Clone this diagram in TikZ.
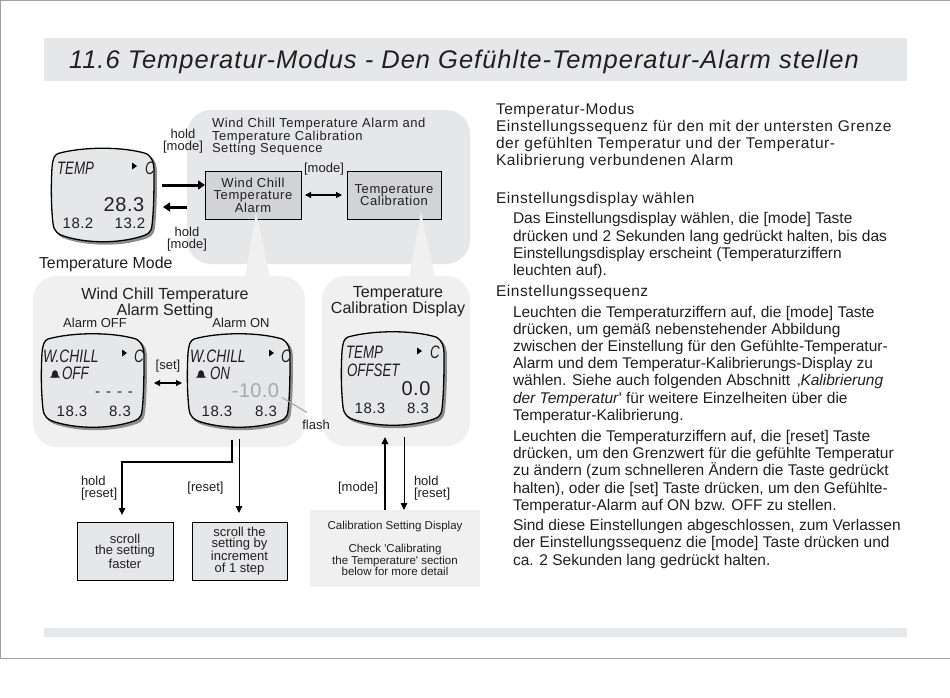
\documentclass[tikz,border=0pt]{standalone}
\usepackage{fontspec}
\setmainfont{Liberation Sans}
\newfontfamily\lspA[LetterSpace=3.9]{Liberation Sans}
\newfontfamily\lspB[LetterSpace=3.6]{Liberation Sans}
\newfontfamily\lspC[LetterSpace=4.4]{Liberation Sans}
\newfontfamily\plainf{Liberation Sans}
\usetikzlibrary{arrows.meta,calc}
\definecolor{txt}{HTML}{231F20}
\definecolor{barfill}{HTML}{E6E7E8}
\definecolor{seqfill}{HTML}{E6E7E8}
\definecolor{panelfill}{HTML}{F0F0F1}
\definecolor{boxfill}{HTML}{D1D3D4}
\definecolor{lcdfill}{HTML}{E6E7E8}
\definecolor{flashc}{HTML}{A7A9AC}
\definecolor{framec}{HTML}{A0A0A0}
\tikzset{
  lbl/.style={inner sep=0pt,outer sep=0pt,text=txt,anchor=base},
  lw/.style={lbl,anchor=base west},
  bodyt/.style={lw,font=\fontsize{15.5}{17}\selectfont},
  bodyh/.style={lw,font=\lspB\fontsize{15.5}{17}\selectfont},
  small/.style={font=\fontsize{13}{12}\selectfont},
  lcdt/.style={lw,font=\itshape\fontsize{18}{18}\selectfont,xscale=.74},
  lcdn/.style={lbl,font=\fontsize{15}{15}\selectfont\addfontfeature{LetterSpace=3}},
  lcdb/.style={lbl,font=\fontsize{20}{20}\selectfont\addfontfeature{LetterSpace=3}},
  panelbox/.style={inner sep=0pt,outer sep=0pt,rounded corners=24pt,fill=panelfill},
  seqbox/.style={draw=black,line width=1pt,fill=boxfill,inner sep=0pt,outer sep=0pt},
  scrollbox/.style={draw=black,line width=1pt,fill=lcdfill,inner sep=0pt,outer sep=0pt},
  fatarrow/.style={line width=3pt,-{Triangle[length=7pt,width=9pt]},black},
  thinarrow/.style={line width=1.1pt,-{Triangle[length=7pt,width=6.5pt]},black},
  dblarrow/.style={line width=1.2pt,{Triangle[length=6pt,width=6pt]}-{Triangle[length=6pt,width=6pt]},black},
}
\newcount\tn
\newcommand{\bodyline}[4][bodyt]{\global\advance\tn by 1 \node[#1] (line\the\tn) at (#2,#3) {#4};}
\newcommand{\lcdshape}[3]{%
  \node[minimum width=104pt,minimum height=96pt,inner sep=0pt,outer sep=0pt] (#1) at (#2,#3) {};
  \begin{scope}[shift={(#2,#3)}]
    \foreach \sx/\col/\lwd in {2.2/black!45/1.5pt,0/lcdfill/1.3pt}{
    \draw[draw=\ifdim\sx pt>0pt black!45\else black\fi,fill=\col,line width=\lwd,shift={(\sx,\sx)}]
      (-45,-42) .. controls (-20,-49) and (20,-49) .. (43,-42)
      .. controls (50,-38) and (51,-32) .. (51,-24)
      .. controls (51,-8) and (51,12) .. (49,30)
      .. controls (48,38) and (44,39) .. (38,41)
      .. controls (15,48) and (-15,48) .. (-38,41)
      .. controls (-45,39) and (-49,36) .. (-50,28)
      .. controls (-52,10) and (-52,-10) .. (-51,-28)
      .. controls (-50,-37) and (-49,-40) .. (-45,-42) -- cycle;}
  \end{scope}}
\newcommand{\pointer}[2]{\fill[black] (#1,#2) ++(-2,-3.5) -- ++(5,3.5) -- ++(-5,3.5) -- cycle;}
\newcommand{\bell}[2]{\begin{scope}[shift={(#1,#2)}]
  \fill[txt] (-5.2,-1.5) .. controls (-3.5,-2) and (-3,-3.5) .. (-3,-5)
  .. controls (-3,-7.5) and (-1.5,-8.8) .. (0,-8.8) .. controls (1.5,-8.8) and (3,-7.5) .. (3,-5)
  .. controls (3,-3.5) and (3.5,-2) .. (5.2,-1.5) -- cycle;
  \fill[txt] (-1.5,-1.5) arc[start angle=180,end angle=360,radius=1.5];
  \end{scope}}
\begin{document}
\begin{tikzpicture}[x=1pt,y=-1pt]
\useasboundingbox (0,0) rectangle (950,697);
\fill[white] (0,0) rectangle (950,697);
\draw[framec,line width=1.2pt] (950,.6) -- (.6,.6) -- (.6,658.5) -- (950,658.5);
% title and foot bars
\node[inner sep=0pt,outer sep=0pt,minimum width=863pt,minimum height=43pt,fill=barfill] (titlebar) at (475.5,59.5) {};
\node[lw,font=\lspA\itshape\fontsize{25.5}{26}\selectfont] (title) at (69,68) {11.6 Temperatur-Modus - Den Gefühlte-Temperatur-Alarm stellen};
\node[inner sep=0pt,outer sep=0pt,minimum width=863pt,minimum height=9pt,fill=barfill] (footbar) at (475.5,632.5) {};
% grey panels
\node[panelbox,fill=seqfill,minimum width=283pt,minimum height=154pt] (seqpanel) at (328.5,187) {};
\node[panelbox,minimum width=272pt,minimum height=171pt] (alarmpanel) at (169,361.5) {};
\node[panelbox,minimum width=148pt,minimum height=170pt] (calpanel) at (396,361) {};
% sequence boxes and callout wedges
\node[seqbox,minimum width=96pt,minimum height=48pt] (wcbox) at (253,195) {};
\node[seqbox,minimum width=94pt,minimum height=48pt] (tcbox) at (394,195) {};
\fill[panelfill] (256,212) -- (245,277) -- (270,277) -- cycle;
\fill[panelfill] (421,212) -- (409,277) -- (435,277) -- cycle;
\node[lbl,align=center,font=\lspC\fontsize{13}{12.5}\selectfont,anchor=center] (wctext) at (wcbox.center) {Wind Chill\\Temperature\\Alarm};
\node[lbl,align=center,font=\lspC\fontsize{13}{12.5}\selectfont,anchor=center] (tctext) at (tcbox.center) {Temperature\\Calibration};
\node[lw,align=left,font=\lspC\fontsize{13}{12.5}\selectfont,anchor=north west] (seqtitle) at (212,118.5) {Wind Chill Temperature Alarm and\\Temperature Calibration\\Setting Sequence};
\node[lbl,small] (seqmode) at (324,172) {[mode]};
\draw[dblarrow] ([xshift=4pt]wcbox.east) -- ([xshift=-5pt]wcbox.east -| tcbox.west);
% temperature mode display
\lcdshape{lcdtemp}{103}{195.5}
\node[lcdt] (a1) at (57,174) {TEMP};
\node[lcdt] (a2) at (145,174) {C};
\pointer{134}{166}
\node[lcdb] (a3) at (124,211) {28.3};
\node[lcdn] (a4) at (78,228) {18.2};
\node[lcdn] (a5) at (130,228) {13.2};
\node[lbl,small,align=center,anchor=north] (holdup) at (183,128.6) {hold\\{[mode]}};
\node[lbl,small,align=center,anchor=north] (holddn) at (187,226.6) {hold\\{[mode]}};
\draw[fatarrow] ([yshift=10.5pt,xshift=7pt]lcdtemp.east) -- ([yshift=10.5pt]lcdtemp.east -| wcbox.west);
\draw[fatarrow] ([yshift=-11.5pt]lcdtemp.east -| seqpanel.west) -- ([yshift=-11.5pt,xshift=8pt]lcdtemp.east);
\node[lw,font=\fontsize{15.9}{16}\selectfont] (tmode) at (39,268) {Temperature Mode};
% alarm panel
\node[lbl,align=center,font=\fontsize{16.1}{16}\selectfont,anchor=north] (alarmtitle) at (165,287.5) {Wind Chill Temperature\\Alarm Setting};
\node[lbl,small] (aoff) at (95,327) {Alarm OFF};
\node[lbl,small] (aon) at (241,327) {Alarm ON};
\lcdshape{lcdoff}{93}{381}
\node[lcdt,xscale=1.04] (b1) at (43,362) {W.CHILL};
\node[lcdt] (b2) at (134,362) {C};
\pointer{124}{353}
\bell{55}{379}
\node[lcdt] (b3) at (62,379) {OFF};
\node[lbl,font=\fontsize{15}{15}\selectfont] (b4) at (114,396.5) {-\hspace{6pt}-\hspace{6pt}-\hspace{6pt}-};
\node[lcdn] (b5) at (72,416) {18.3};
\node[lcdn] (b6) at (120,416) {8.3};
\lcdshape{lcdon}{239}{381}
\node[lcdt,xscale=1.04] (c1) at (190,362) {W.CHILL};
\node[lcdt] (c2) at (281,362) {C};
\pointer{271}{353}
\bell{201}{379}
\node[lcdt] (c3) at (210,379) {ON};
\node[lbl,font=\fontsize{20}{20}\selectfont\addfontfeature{LetterSpace=2},text=flashc] (c4) at (255.5,397) {-10.0};
\node[lcdn] (c5) at (217,416) {18.3};
\node[lcdn] (c6) at (266,416) {8.3};
\node[lbl,small] (flash) at (316,429) {flash};
\draw[flashc,line width=1.1pt] ([xshift=3pt,yshift=-.5pt]c4.base east) -- ([xshift=-9pt,yshift=7pt]flash.north);
\node[lbl,small] (setl) at (168,369) {[set]};
\draw[dblarrow] ([xshift=9pt,yshift=-2pt]lcdoff.east) -- ([xshift=-5pt,yshift=-2pt]lcdon.west);
% calibration panel
\node[lbl,align=center,font=\fontsize{16.1}{16}\selectfont,anchor=north] (caltitle) at (398,286.5) {Temperature\\Calibration Display};
\lcdshape{lcdcal}{393}{379}
\node[lcdt] (d1) at (346,358) {TEMP};
\node[lcdt] (d2) at (430,358) {C};
\pointer{419}{351}
\node[lcdt] (d3) at (347,376) {OFFSET};
\node[lcdb] (d4) at (416,395) {0.0};
\node[lcdn] (d5) at (370,413) {18.3};
\node[lcdn] (d6) at (418,413) {8.3};
% lower boxes
\node[scrollbox,minimum width=96pt,minimum height=58pt,align=center,font=\fontsize{13}{11.6}\selectfont,text=txt] (scrolla) at (125,551) {scroll\\the setting\\faster};
\node[scrollbox,minimum width=95pt,minimum height=58pt,align=center,font=\fontsize{13}{11.6}\selectfont,text=txt] (scrollb) at (239.5,551) {scroll the\\setting by\\increment\\of 1 step};
\node[inner sep=0pt,outer sep=0pt,fill=panelfill,minimum width=170pt,minimum height=77pt,align=center,font=\plainf\fontsize{11.5}{11.6}\selectfont,text=txt] (calset) at (395,548.5) {Calibration Setting Display\\[11.5pt]Check 'Calibrating\\the Temperature' section\\below for more detail};
\coordinate (startfast) at (232,440);
\coordinate (startstep) at (239,439);
\coordinate (fastend) at ([xshift=-3pt,yshift=7pt]scrolla.north);
\draw[thinarrow] (startfast) |- ($(fastend)+(0,-53)$) -- (fastend);
\draw[thinarrow,line width=.9pt] (startstep) -- ([yshift=9pt,xshift=-.5pt]scrollb.north);
\draw[thinarrow] ([xshift=-10pt]calset.north) -- ([xshift=-11pt,yshift=9pt]calpanel.south);
\draw[thinarrow,line width=.8pt] ([xshift=9pt,yshift=9pt]calpanel.south -| calset.north) -- ([xshift=9pt]calset.north);
\node[lw,small,align=left,anchor=north west] (lhold) at (81,476.5) {hold\\{[reset]}};
\node[lbl,small] (lreset) at (205.5,491) {[reset]};
\node[lbl,small] (lmode) at (358,491) {[mode]};
\node[lw,small,align=left,anchor=north west] (rhold) at (414,476.5) {hold\\{[reset]}};
% right column
\bodyline[bodyh]{496}{114}{Temperatur-Modus}
\bodyline[bodyh]{496}{131}{Einstellungssequenz für den mit der untersten Grenze}
\bodyline[bodyh]{496}{148}{der gefühlten Temperatur und der Temperatur-}
\bodyline[bodyh]{496}{165}{Kalibrierung verbundenen Alarm}
\bodyline[bodyh]{496}{203}{Einstellungsdisplay wählen}
\bodyline{513}{223}{Das Einstellungsdisplay wählen, die [mode] Taste}
\bodyline{513}{241}{drücken und 2 Sekunden lang gedrückt halten, bis das}
\bodyline{513}{258}{Einstellungsdisplay erscheint (Temperaturziffern}
\bodyline{513}{275}{leuchten auf).}
\bodyline[bodyh]{496}{296}{Einstellungssequenz}
\bodyline{513}{317}{Leuchten die Temperaturziffern auf, die [mode] Taste}
\bodyline{513}{334}{drücken, um gemäß nebenstehender Abbildung}
\bodyline{513}{351}{zwischen der Einstellung für den Gefühlte-Temperatur-}
\bodyline{513}{368}{Alarm und dem Temperatur-Kalibrierungs-Display zu}
\bodyline{513}{385}{wählen. Siehe auch folgenden Abschnitt \,‚\textit{Kalibrierung}}
\bodyline{513}{403}{\textit{der Temperatur}{\plainf'} für weitere Einzelheiten über die}
\bodyline{513}{420}{Temperatur-Kalibrierung.}
\bodyline{513}{441}{Leuchten die Temperaturziffern auf, die [reset] Taste}
\bodyline{513}{458}{drücken, um den Grenzwert für die gefühlte Temperatur}
\bodyline{513}{475}{zu ändern (zum schnelleren Ändern die Taste gedrückt}
\bodyline{513}{493}{halten), oder die [set] Taste drücken, um den Gefühlte-}
\bodyline{513}{510}{Temperatur-Alarm auf ON bzw. OFF zu stellen.}
\bodyline{513}{530}{Sind diese Einstellungen abgeschlossen, zum Verlassen}
\bodyline{513}{547}{der Einstellungssequenz die [mode] Taste drücken und}
\bodyline{513}{565}{ca. 2 Sekunden lang gedrückt halten.}
\end{tikzpicture}
\end{document}
